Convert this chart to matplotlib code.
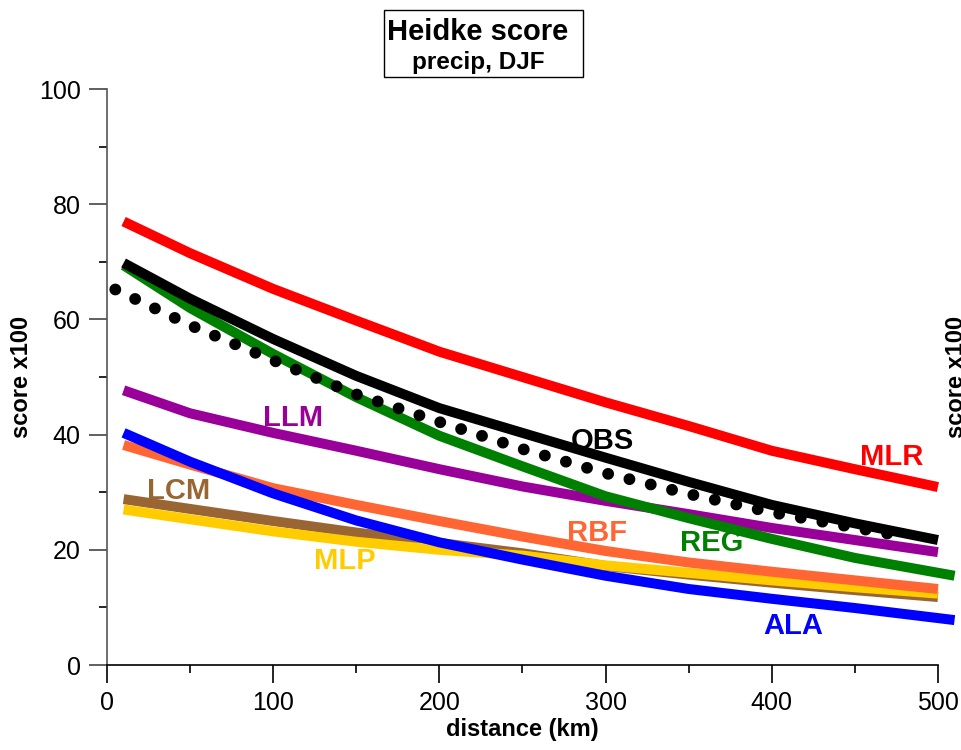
import matplotlib.pyplot as plt
from matplotlib.patches import Rectangle
from matplotlib.ticker import MultipleLocator

plt.rcParams['font.family'] = ['Liberation Sans', 'DejaVu Sans']

# distances (km) and Heidke scores (x100)
dist = [10, 50, 100, 150, 200, 250, 300, 350, 400, 450, 500]
dist_ext = [10, 50, 100, 150, 200, 250, 300, 350, 400, 450, 510]
dist_dots = [5, 50, 100, 150, 200, 250, 300, 350, 400, 470]

mlr = [77.0, 71.5, 65.3, 59.8, 54.4, 50.0, 45.6, 41.5, 37.2, 34.0, 30.9]
obs = [69.8, 63.6, 56.6, 50.2, 44.6, 40.3, 36.0, 31.8, 27.8, 24.6, 21.7]
obs_dots = [65.2, 59.0, 52.9, 47.0, 42.2, 37.5, 33.3, 29.7, 26.5, 22.8]
reg = [69.4, 62.0, 54.0, 46.5, 39.8, 34.5, 29.3, 25.5, 21.9, 18.6, 15.5]
llm = [47.7, 43.7, 40.3, 37.2, 34.0, 31.0, 28.5, 26.2, 23.8, 21.7, 19.6]
rbf = [38.2, 34.8, 30.7, 27.8, 25.0, 22.3, 19.8, 17.8, 16.2, 14.7, 13.2]
ala = [40.3, 35.3, 29.8, 25.1, 21.3, 18.3, 15.5, 13.2, 11.5, 9.9, 7.8]
lcm = [28.8, 27.1, 25.0, 23.0, 21.2, 19.4, 17.2, 15.7, 14.3, 13.0, 11.8]
mlp = [27.0, 25.3, 23.2, 21.4, 20.0, 19.0, 17.3, 16.0, 14.7, 13.5, 12.4]

fig = plt.figure(figsize=(9.61, 7.5), dpi=100)
ax = fig.add_axes([0.1113, 0.1133, 0.8647, 0.768])

lw = 7.2
series = [
    (dist, lcm, '#996633', 'LCM', 43, 30.2),
    (dist, mlp, '#FFCC00', 'MLP', 143, 18.0),
    (dist, rbf, '#FF6633', 'RBF', 295, 23.0),
    (dist_ext, ala, '#0000FF', 'ALA', 413, 6.8),
    (dist, llm, '#990099', 'LLM', 112, 42.9),
    (dist_ext, reg, '#008000', 'REG', 364, 21.2),
    (dist, obs, '#000000', 'OBS', 298, 38.9),
    (dist, mlr, '#FF0000', 'MLR', 472, 36.1),
]
for xs, ys, col, name, tx, ty in series:
    ax.plot(xs, ys, color=col, lw=lw, solid_capstyle='butt', clip_on=False)
    ax.text(tx, ty, name, color=col, fontsize=21, fontweight='bold',
            ha='center', va='center')

ax.plot(dist_dots, obs_dots, color='black', lw=8.5, linestyle=(0, (0.01, 1.85)),
        dash_capstyle='round', clip_on=False)

ax.set_xlim(0, 500)
ax.set_ylim(0, 100)
ax.xaxis.set_major_locator(MultipleLocator(100))
ax.xaxis.set_minor_locator(MultipleLocator(50))
ax.yaxis.set_major_locator(MultipleLocator(20))
ax.yaxis.set_minor_locator(MultipleLocator(10))
ax.tick_params(which='major', length=13, width=1.2, labelsize=18, pad=6)
ax.tick_params(which='minor', length=6, width=1.2)
ax.tick_params(axis='y', colors='#444444', labelcolor='black')
for s in ['top', 'right']:
    ax.spines[s].set_visible(False)
ax.spines['left'].set_color('#555555')
ax.spines['left'].set_linewidth(1.2)
ax.spines['bottom'].set_linewidth(1.2)

ax.set_xlabel('distance (km)', fontsize=17, fontweight='bold', labelpad=2)
ax.set_ylabel('score x100', fontsize=17, fontweight='bold', labelpad=4)
fig.text(0.983, 0.497, 'score x100', fontsize=17, fontweight='bold',
         rotation=90, ha='left', va='center')

# title box
fig.patches.append(Rectangle((0.3996, 0.8973), 0.2071, 0.0894, transform=fig.transFigure,
                             fill=False, edgecolor='black', lw=1.0))
fig.text(0.4974, 0.957, 'Heidke score', fontsize=21, fontweight='bold',
         ha='center', va='center')
fig.text(0.4974, 0.917, 'precip, DJF', fontsize=17.5, fontweight='bold',
         ha='center', va='center')

fig.savefig('out.png', dpi=100)
